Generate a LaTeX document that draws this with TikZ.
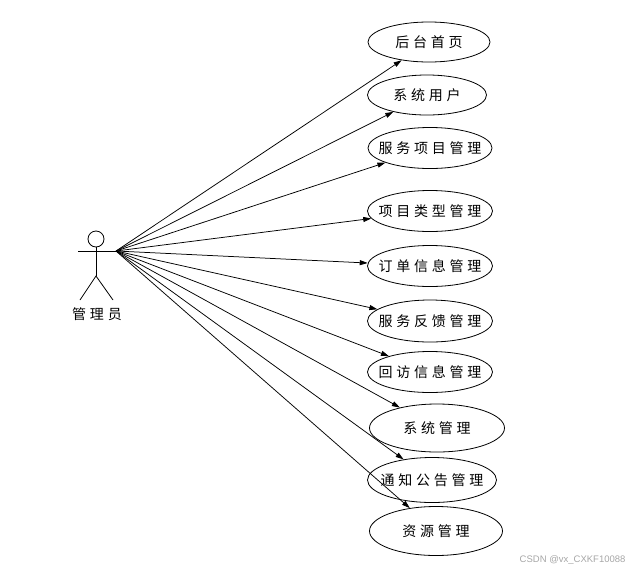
\documentclass[tikz,border=0pt]{standalone}
\usepackage{fontspec}
\setmainfont{Liberation Sans}
\newfontfamily\cjk[LetterSpace=27]{Noto Sans CJK SC}
\usetikzlibrary{shapes.geometric,arrows.meta}
\begin{document}
\begin{tikzpicture}[x=1pt,y=-1pt,
  uc/.style={draw,ellipse,line width=0.8pt,minimum width=#1,minimum height=40pt,inner sep=0pt,font=\cjk\fontsize{14}{15}\selectfont},
  uc/.default=124pt,
  link/.style={line width=0.75pt,-{Triangle[length=8pt,width=5pt]}},
  stick/.style={line width=0.8pt}]
\useasboundingbox (0,0) rectangle (637,571);
% actor
\node[draw,circle,line width=0.8pt,minimum size=16pt,inner sep=0pt] (head) at (96,239) {};
\coordinate (hip) at (96,276);
\coordinate (armL) at (78,251);
\coordinate (armR) at (116,251);
\coordinate (footL) at (80,300);
\coordinate (footR) at (113,300);
\draw[stick] (head.south) -- (hip);
\draw[stick] (armL) -- (armR);
\draw[stick] (footL) -- (hip) -- (footR);
\node[font=\cjk\fontsize{14}{15}\selectfont] (actor) at (97,314) {管理员};
% use cases
\node[uc=122pt] (u1) at (429,42) {\makebox[0pt]{后台首页}};
\node[uc=119pt] (u2) at (427,95) {\makebox[0pt]{系统用户}};
\node[uc=124pt,minimum height=41pt] (u3) at (430,148) {\makebox[0pt]{服务项目管理}};
\node[uc=125pt,minimum height=41pt] (u4) at (430,211) {\makebox[0pt]{项目类型管理}};
\node[uc=125pt,minimum height=41pt] (u5) at (430,266) {\makebox[0pt]{订单信息管理}};
\node[uc=125pt,minimum height=42pt] (u6) at (430,321) {\makebox[0pt]{服务反馈管理}};
\node[uc=125pt,minimum height=41pt] (u7) at (430,372) {\makebox[0pt]{回访信息管理}};
\node[uc=135pt,minimum height=48pt] (u8) at (437,428) {\makebox[0pt]{系统管理}};
\node[uc=129pt,minimum height=45pt] (u9) at (432,480) {\makebox[0pt]{通知公告管理}};
\node[uc=133pt,minimum height=49pt] (u10) at (436,531) {\makebox[0pt]{资源管理}};
\foreach \i in {1,...,10} \draw[link] (armR) -- (u\i);
% watermark
\node[text=black!35,font=\fontsize{9.5}{10}\selectfont,anchor=east] (wm) at (629,560) {CSDN @vx\_CXKF10088};
\end{tikzpicture}
\end{document}
